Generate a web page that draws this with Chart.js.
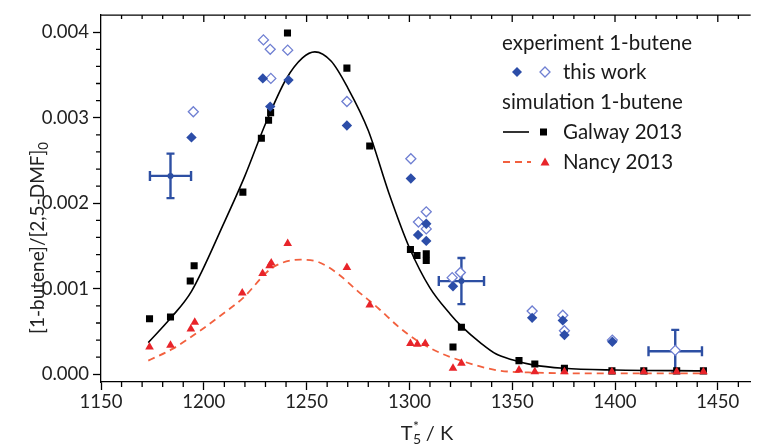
<!DOCTYPE html>
<html><head><meta charset="utf-8">
<script src="https://cdn.jsdelivr.net/npm/chart.js@4.4.1/dist/chart.umd.min.js"></script>
<style>html,body{margin:0;padding:0;background:#fff;overflow:hidden}#wrap{position:relative;width:757px;height:446px}</style>
</head><body><div id="wrap"><canvas id="c" width="757" height="446"></canvas></div>
<script>
// tick labels
const xTicks=[1150,1200,1250,1300,1350,1400,1450];
const yTicks=[0,0.001,0.002,0.003,0.004];
// simulation curves
const galwayCurveT=[1173,1184,1194,1210,1220,1230,1240,1248,1254,1262,1270,1280,1290,1300,1310,1320,1325,1335,1342,1350,1360,1375,1400,1442];
const galwayCurveY=[0.00037,0.00066,0.00097,0.00178,0.00232,0.00293,0.00345,0.00370,0.00377,0.00366,0.00335,0.00285,0.00212,0.00148,0.00101,0.00070,0.00057,0.00036,0.00024,0.00017,0.00011,0.00007,0.00005,0.00004];
const nancyCurveT=[1173,1185,1197,1210,1219,1233,1247,1256,1265,1275,1285,1295,1304,1315,1325,1342,1360,1400,1442];
const nancyCurveY=[0.00016,0.00030,0.00049,0.00072,0.00089,0.00124,0.00134,0.00131,0.00118,0.00097,0.00077,0.00055,0.00039,0.00025,0.00016,0.00005,0.00002,0.00001,0.00001];
// simulation points
const galwayPtsT=[1173.6,1183.8,1193.4,1195.3,1219.0,1228.0,1231.5,1232.5,1240.7,1269.6,1280.7,1300.5,1303.7,1308.2,1308.2,1321.2,1325.3,1353.3,1361.0,1375.4,1398.5,1414.0,1430.0,1443.0];
const galwayPtsY=[0.00065,0.00067,0.00109,0.00127,0.00213,0.00276,0.00297,0.00306,0.00399,0.00358,0.00267,0.00146,0.00139,0.00141,0.00133,0.00032,0.00055,0.00016,0.00012,0.00007,0.00004,0.00004,0.00004,0.00004];
const nancyPtsT=[1173.6,1183.8,1193.7,1195.6,1218.7,1228.6,1232.0,1232.8,1240.8,1269.6,1280.7,1300.5,1303.9,1307.7,1321.2,1325.3,1353.3,1361.0,1375.4,1398.5,1414.0,1430.0,1443.0];
const nancyPtsY=[0.00032,0.00034,0.00053,0.00061,0.00095,0.00118,0.00127,0.00130,0.00153,0.00125,0.00081,0.00036,0.00035,0.00036,0.00007,0.00013,0.00005,0.00003,0.00003,0.00003,0.00003,0.00003,0.00003];
// experiment (this work)
const expFilledT=[1194.0,1228.7,1232.3,1241.2,1269.6,1300.7,1304.2,1308.2,1308.2,1321.2,1359.7,1374.6,1375.4,1398.7];
const expFilledY=[0.00277,0.00346,0.00313,0.00344,0.00291,0.00229,0.00163,0.00176,0.00156,0.00103,0.00066,0.00063,0.00046,0.00038];
const expOpenT=[1194.9,1229.0,1232.3,1232.6,1240.8,1269.6,1300.7,1304.4,1308.2,1308.2,1320.8,1324.8,1359.7,1374.6,1375.4,1398.7,1429.3];
const expOpenY=[0.00307,0.00391,0.00380,0.00346,0.00379,0.00319,0.00252,0.00178,0.00190,0.00170,0.00113,0.00119,0.00074,0.00069,0.00051,0.00040,0.00028];
// representative error bars
const errT=[1183.8,1325.3,1429.3];
const errY=[0.00232,0.00109,0.00027];
const errDT=[10,11,13];
const errDY=[0.00026,0.00027,0.00025];

const pts=(xs,ys)=>xs.map((x,i)=>({x:x,y:ys[i]}));
const FONT='Lato, "Open Sans", sans-serif';
const BLUE='#2c4da8', BLUE_OPEN='#6f7fd2', RED='#e8242a', RED_LINE='#f2603e';

const extras={
  id:'extras',
  beforeDatasetsDraw(chart){
    const {ctx,scales:{x,y}}=chart;
    ctx.save();
    ctx.strokeStyle='#2d4fa3'; ctx.fillStyle='#2d4fa3'; ctx.lineWidth=2.4; ctx.lineCap='butt';
    for(let i=0;i<errT.length;i++){
      const cx=x.getPixelForValue(errT[i]), cy=y.getPixelForValue(errY[i]);
      const x0=x.getPixelForValue(errT[i]-errDT[i]), x1=x.getPixelForValue(errT[i]+errDT[i]);
      const y0=y.getPixelForValue(errY[i]+errDY[i]), y1=y.getPixelForValue(errY[i]-errDY[i]);
      ctx.beginPath();
      ctx.moveTo(x0,cy);ctx.lineTo(x1,cy);
      ctx.moveTo(cx,y0);ctx.lineTo(cx,y1);
      ctx.moveTo(x0,cy-5);ctx.lineTo(x0,cy+5);
      ctx.moveTo(x1,cy-5);ctx.lineTo(x1,cy+5);
      ctx.moveTo(cx-4,y0);ctx.lineTo(cx+4,y0);
      ctx.moveTo(cx-4,y1);ctx.lineTo(cx+4,y1);
      ctx.stroke();
      ctx.beginPath();ctx.arc(cx,cy,3,0,Math.PI*2);ctx.fill();
    }
    ctx.restore();
  },
  afterDraw(chart){
    const {ctx,chartArea:a,scales:{x,y}}=chart;
    ctx.save();
    ctx.strokeStyle='#000'; ctx.lineWidth=1.3;
    // top frame
    ctx.beginPath();ctx.moveTo(a.left,a.top);ctx.lineTo(a.right,a.top);ctx.stroke();
    ctx.beginPath();
    for(let v=1160;v<=1460;v+=10){
      const px=x.getPixelForValue(v);
      const major=(v%50===0);
      if(!major){ctx.moveTo(px,a.bottom);ctx.lineTo(px,a.bottom+5);}
      ctx.moveTo(px,a.top);ctx.lineTo(px,a.top+(major?7:4));
    }
    for(let k=1;k<=20;k++){
      const v=k*0.0002; if(k%5===0) continue;
      const py=y.getPixelForValue(v);
      ctx.moveTo(a.left,py);ctx.lineTo(a.left-5,py);
    }
    ctx.stroke();

    // axis titles
    ctx.fillStyle='#222';
    ctx.textBaseline='alphabetic';
    const xt={c:427,b:440};
    ctx.font='20px '+FONT;
    const wT=ctx.measureText('T').width;
    ctx.font='14px '+FONT;
    const wS=Math.max(ctx.measureText('5').width,ctx.measureText('*').width);
    ctx.font='20px '+FONT;
    const rest=' / K'; const wR=ctx.measureText(rest).width;
    let sx=xt.c-(wT+wS+wR)/2;
    ctx.textAlign='left';
    ctx.fillText('T',sx,xt.b);
    ctx.font='14px '+FONT;
    ctx.fillText('*',sx+wT+0.5,xt.b-9);
    ctx.fillText('5',sx+wT+0.5,xt.b+4);
    ctx.font='20px '+FONT;
    ctx.fillText(rest,sx+wT+wS,xt.b);
    // y title
    ctx.save();
    ctx.translate(44,238);ctx.rotate(-Math.PI/2);
    ctx.font='19px '+FONT;
    const yMain='[1-butene]/[2,5-DMF]';
    const wm=ctx.measureText(yMain).width;
    ctx.font='13px '+FONT;
    const ws=ctx.measureText('0').width;
    let ys=-(wm+ws)/2;
    ctx.font='19px '+FONT;
    ctx.fillText(yMain,ys,0);
    ctx.font='13px '+FONT;
    ctx.fillText('0',ys+wm,4);
    ctx.restore();

    // legend
    ctx.font='20.5px '+FONT; ctx.fillStyle='#1a1a1a'; ctx.textBaseline='middle'; ctx.textAlign='left';
    ctx.fillText('experiment 1-butene',502,43);
    ctx.fillText('this work',563,72);
    ctx.fillText('simulation 1-butene',502,102);
    ctx.fillText('Galway 2013',563,132);
    ctx.fillText('Nancy 2013',563,162);
    const diamond=(cx,cy,r)=>{ctx.beginPath();ctx.moveTo(cx,cy-r);ctx.lineTo(cx+r,cy);ctx.lineTo(cx,cy+r);ctx.lineTo(cx-r,cy);ctx.closePath();};
    diamond(517,72,5);ctx.fillStyle=BLUE;ctx.fill();
    diamond(545,72,5);ctx.fillStyle='#fff';ctx.fill();ctx.strokeStyle=BLUE_OPEN;ctx.lineWidth=1.3;ctx.stroke();
    ctx.strokeStyle='#000';ctx.lineWidth=1.6;ctx.beginPath();ctx.moveTo(503,132);ctx.lineTo(529,132);ctx.stroke();
    ctx.fillStyle='#000';ctx.fillRect(540,128.5,7,7);
    ctx.strokeStyle=RED_LINE;ctx.lineWidth=1.8;ctx.setLineDash([7,5]);ctx.beginPath();ctx.moveTo(503,162);ctx.lineTo(531,162);ctx.stroke();ctx.setLineDash([]);
    ctx.fillStyle=RED;ctx.beginPath();ctx.moveTo(545,157.5);ctx.lineTo(549.5,165.5);ctx.lineTo(540.5,165.5);ctx.closePath();ctx.fill();
    ctx.restore();
  }
};

new Chart(document.getElementById('c'),{
  type:'scatter',
  data:{datasets:[
    {label:'this work (filled)',data:pts(expFilledT,expFilledY),pointStyle:'rectRot',pointRadius:5.2,backgroundColor:BLUE,borderColor:BLUE,borderWidth:0,showLine:false},
    {label:'this work (open)',data:pts(expOpenT,expOpenY),pointStyle:'rectRot',pointRadius:5,backgroundColor:'#fff',borderColor:BLUE_OPEN,borderWidth:1.3,showLine:false},
    {label:'Nancy 2013 pts',data:pts(nancyPtsT,nancyPtsY),pointStyle:'triangle',pointRadius:5,backgroundColor:RED,borderColor:RED,borderWidth:0,showLine:false},
    {label:'Galway 2013 pts',data:pts(galwayPtsT,galwayPtsY),pointStyle:'rect',pointRadius:5,backgroundColor:'#000',borderColor:'#000',borderWidth:0,showLine:false},
    {label:'Nancy 2013',data:pts(nancyCurveT,nancyCurveY),showLine:true,pointRadius:0,borderColor:RED_LINE,borderWidth:1.8,borderDash:[7,5],cubicInterpolationMode:'monotone',fill:false},
    {label:'Galway 2013',data:pts(galwayCurveT,galwayCurveY),showLine:true,pointRadius:0,borderColor:'#000',borderWidth:1.6,cubicInterpolationMode:'monotone',fill:false}
  ]},
  options:{
    responsive:false,animation:false,devicePixelRatio:1,
    layout:{padding:{top:11,right:0,left:0,bottom:0}},
    plugins:{legend:{display:false},tooltip:{enabled:false}},
    scales:{
      x:{type:'linear',min:1150,max:1466,
        afterBuildTicks:s=>{s.ticks=xTicks.map(v=>({value:v}));},
        afterFit:s=>{s.height=64;},
        ticks:{font:{family:FONT,size:18.5},color:'#222',padding:1,maxRotation:0,autoSkip:false,callback:v=>String(v)},
        grid:{drawOnChartArea:false,drawTicks:true,tickLength:8,tickColor:'#000',tickWidth:1.3},
        border:{display:true,color:'#000',width:1.3}},
      y:{type:'linear',min:-0.00009,max:0.0042,
        afterBuildTicks:s=>{s.ticks=yTicks.map(v=>({value:v}));},
        afterFit:s=>{s.width=101;},
        ticks:{font:{family:FONT,size:18.5},color:'#222',padding:4,callback:v=>Number(v).toFixed(3)},
        grid:{drawOnChartArea:false,drawTicks:true,tickLength:8,tickColor:'#000',tickWidth:1.3},
        border:{display:true,color:'#000',width:1.3}}
    }
  },
  plugins:[extras]
});
</script></body></html>
